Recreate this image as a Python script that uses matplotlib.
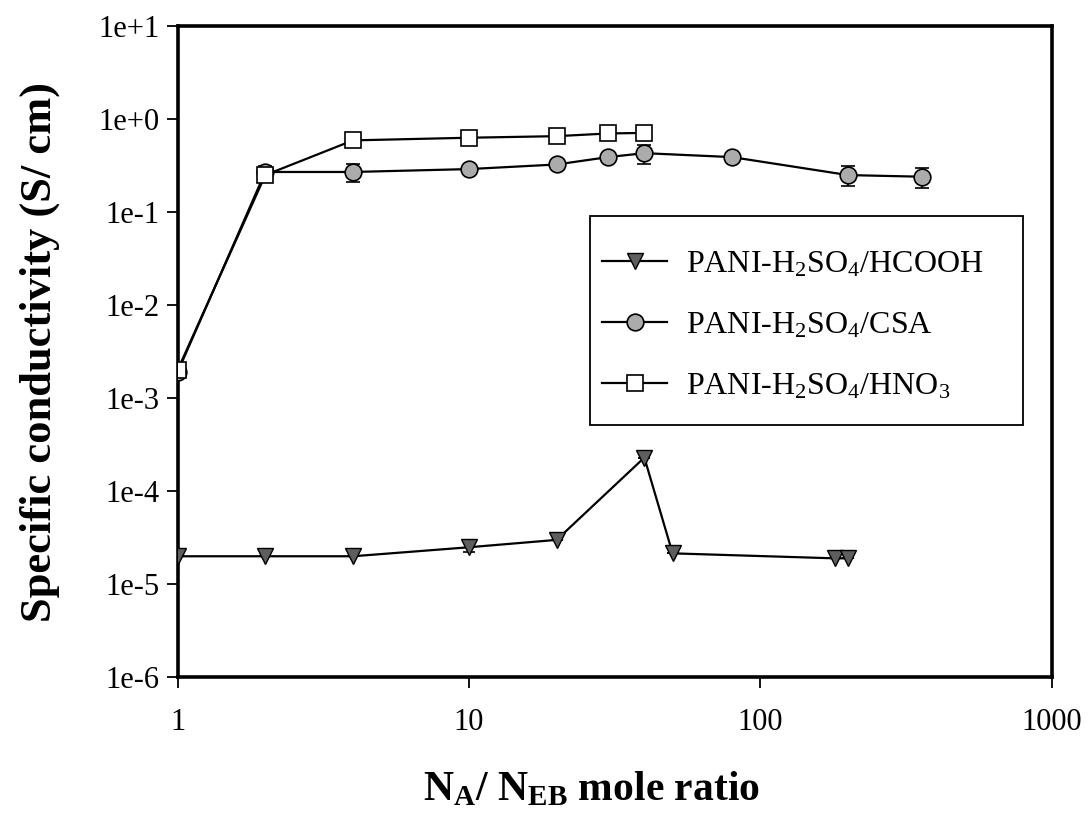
import matplotlib
matplotlib.use("Agg")
import matplotlib.pyplot as plt
from matplotlib.lines import Line2D
from matplotlib.patches import Rectangle

plt.rcParams['font.family'] = ['Liberation Serif', 'DejaVu Serif']
plt.rcParams['mathtext.fontset'] = 'custom'
plt.rcParams['mathtext.rm'] = 'Liberation Serif'
plt.rcParams['mathtext.it'] = 'Liberation Serif'
plt.rcParams['mathtext.bf'] = 'Liberation Serif:bold'

# Mole ratio N_A / N_EB and specific conductivity (S/cm)
x_hcooh = [1, 2, 4, 10, 20, 40, 50, 180, 200]
y_hcooh = [2.0e-5, 2.0e-5, 2.0e-5, 2.5e-5, 3.0e-5, 2.3e-4, 2.15e-5, 1.9e-5, 1.9e-5]
e_hcooh = [0, 0, 0, 0.3e-5, 0, 0, 0, 0, 0]

x_csa = [1, 2, 4, 10, 20, 30, 40, 80, 200, 360]
y_csa = [0.0019, 0.27, 0.27, 0.29, 0.325, 0.39, 0.43, 0.39, 0.25, 0.24]
e_csa = [0, 0.04, 0.06, 0, 0, 0.04, 0.10, 0, 0.06, 0.06]

x_hno3 = [1, 2, 4, 10, 20, 30, 40]
y_hno3 = [0.002, 0.25, 0.59, 0.63, 0.655, 0.70, 0.71]

labels = [r'PANI-H$_2$SO$_4$/HCOOH', r'PANI-H$_2$SO$_4$/CSA', r'PANI-H$_2$SO$_4$/HNO$_3$']
x_ticks = [1, 10, 100, 1000]
x_ticklabels = ['1', '10', '100', '1000']
y_ticks = [1e-6, 1e-5, 1e-4, 1e-3, 1e-2, 1e-1, 1e0, 1e1]
y_ticklabels = ['1e-6', '1e-5', '1e-4', '1e-3', '1e-2', '1e-1', '1e+0', '1e+1']

styles = [
    dict(marker='v', ms=11, mfc='#5e5e5e', mec='black', mew=1.0),
    dict(marker='o', ms=12, mfc='#ababab', mec='black', mew=1.2),
    dict(marker='s', ms=12, mfc='white', mec='black', mew=1.2),
]

fig = plt.figure(figsize=(10.88, 8.26), dpi=100)
ax = fig.add_axes([0.1632, 0.180, 0.8034, 0.7885])
ax.set_xscale('log')
ax.set_yscale('log')

# error bars first, then the connected series on top
ax.errorbar(x_hcooh, y_hcooh, yerr=e_hcooh, fmt='none', ecolor='black',
            capsize=4, elinewidth=1.2, capthick=1.2, zorder=2)
ax.errorbar(x_csa, y_csa, yerr=e_csa, fmt='none', ecolor='black',
            capsize=5, elinewidth=1.2, capthick=1.2, zorder=2)
ax.plot(x_hcooh, y_hcooh, color='black', lw=1.6, zorder=3, **styles[0])
ax.plot(x_csa, y_csa, color='black', lw=1.6, zorder=3, **styles[1])
ax.plot(x_hno3, y_hno3, color='black', lw=1.6, zorder=4, **styles[2])

ax.set_xlim(1, 1000)
ax.set_ylim(1e-6, 1e1)
ax.set_xticks(x_ticks)
ax.set_xticklabels(x_ticklabels)
ax.set_yticks(y_ticks)
ax.set_yticklabels(y_ticklabels)
ax.minorticks_off()
ax.tick_params(axis='both', direction='out', length=8, width=1.3, labelsize=22)
ax.tick_params(axis='x', pad=14)
ax.tick_params(axis='y', pad=5)
for s in ax.spines.values():
    s.set_linewidth(2.6)

ax.set_ylabel('Specific conductivity (S/ cm)', fontsize=32, fontweight='bold', va='center')
ax.yaxis.set_label_coords(-0.158, 0.5)
ax.set_xlabel(r'$\mathbf{N_A}$/ $\mathbf{N_{EB}}$ mole ratio', fontsize=30,
              fontweight='bold', va='center')
ax.xaxis.set_label_coords(0.474, -0.1736)

# legend box
ax.add_patch(Rectangle((0.472, 0.387), 0.4954, 0.321, transform=ax.transAxes,
                       facecolor='white', edgecolor='black', lw=1.3, zorder=5))
handles = [Line2D([], [], color='black', lw=1.6, **st) for st in styles]
leg = ax.legend(handles, labels, loc='upper left', bbox_to_anchor=(0.4857, 0.656),
                fontsize=23, frameon=False, handlelength=2.04, handletextpad=0.6,
                borderpad=0, labelspacing=0.98, borderaxespad=0)
leg.set_zorder(6)

fig.savefig('out.png', dpi=100)
